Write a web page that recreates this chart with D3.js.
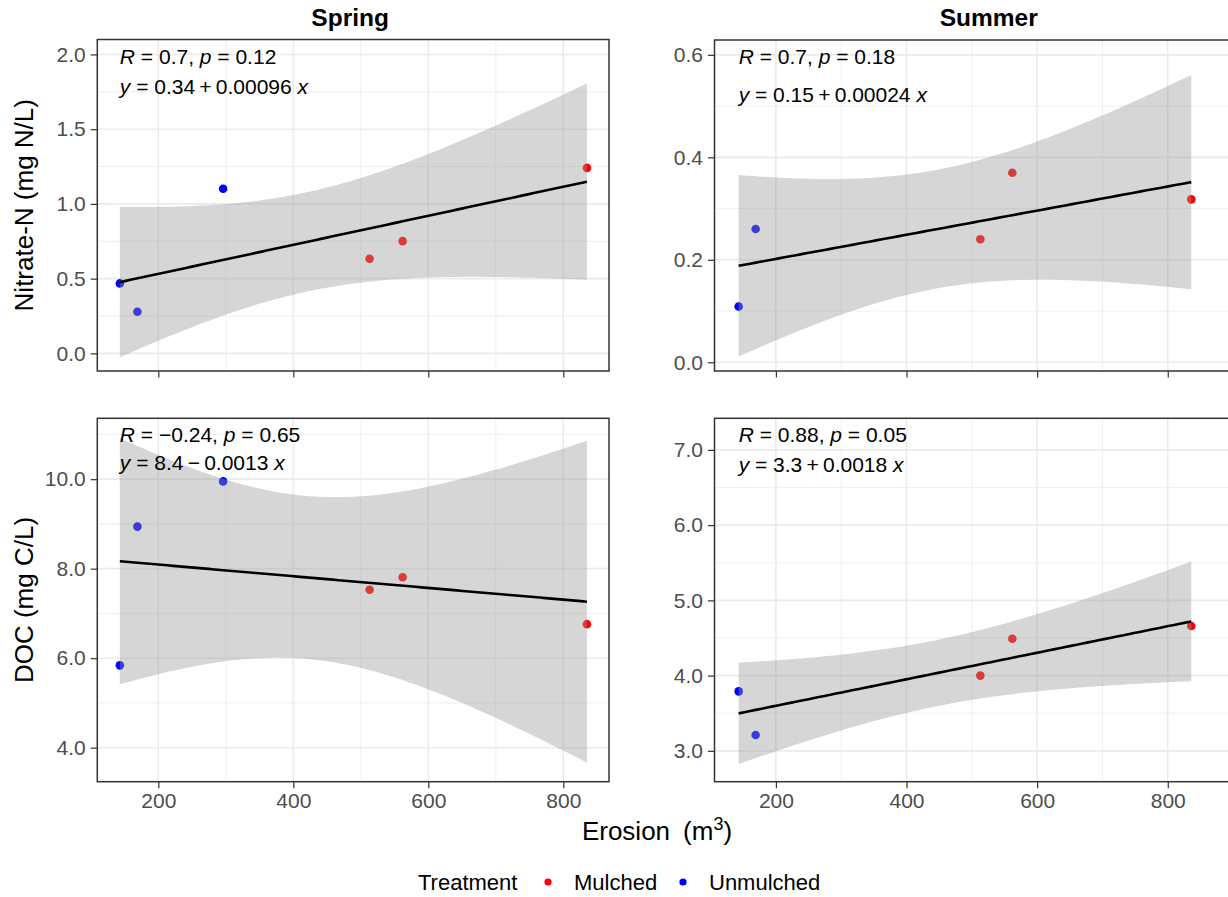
<!DOCTYPE html>
<html>
<head>
<meta charset="utf-8">
<script src="https://cdn.jsdelivr.net/npm/d3@7"></script>
<style>
body { margin: 0; background: #fff; }
text { font-family: "Liberation Sans", Arial, sans-serif; }
</style>
</head>
<body>
<svg id="chart" width="1228" height="897"></svg>
<script>
// values
var springErosion = [143, 169, 296, 513, 562, 835];
var springTreatment = ["Unmulched", "Unmulched", "Unmulched", "Mulched", "Mulched", "Mulched"];
var springNitrate = [0.468, 0.278, 1.101, 0.633, 0.751, 1.241];
var springDOC = [5.84, 8.94, 9.95, 7.53, 7.81, 6.76];

var summerErosion = [143, 169, 513, 562, 836];
var summerTreatment = ["Unmulched", "Unmulched", "Mulched", "Mulched", "Mulched"];
var summerNitrate = [0.109, 0.260, 0.240, 0.370, 0.318];
var summerDOC = [3.79, 3.21, 4.00, 4.49, 4.66];

var seasons = ["Spring", "Summer"];
var yTitles = ["Nitrate-N (mg N/L)", "DOC (mg C/L)"];
var treatments = ["Mulched", "Unmulched"];

// stat_cor and regression equation labels (TL, TR, BL, BR)
var rLabels = ["0.7", "0.7", "\u22120.24", "0.88"];
var pLabels = ["0.12", "0.18", "0.65", "0.05"];
var eqLabels = ["0.34\u2009+\u20090.00096", "0.15\u2009+\u20090.00024", "8.4\u2009\u2212\u20090.0013", "3.3\u2009+\u20090.0018"];

var xTicks = [200, 400, 600, 800];
var xMinor = [300, 500, 700, 900];
var yTicks = [[0, 0.5, 1, 1.5, 2], [0, 0.2, 0.4, 0.6], [4, 6, 8, 10], [3, 4, 5, 6, 7]];
var yMinor = [[0.25, 0.75, 1.25, 1.75], [0.1, 0.3, 0.5], [5, 7, 9, 11], [3.5, 4.5, 5.5, 6.5]];

var colour = d3.scaleOrdinal().domain(treatments).range(["#FF0000", "#0000FF"]);
var tQuant = {3: 3.182446, 4: 2.776445};

var panels = [
  {x: springErosion, y: springNitrate, g: springTreatment, xd: [109.6, 867.7], yd: [-0.118, 2.1],
   left: 97.3, right: 609, top: 39.5, bottom: 371, lab: [24, 54], col: 0, row: 0},
  {x: summerErosion, y: summerNitrate, g: summerTreatment, xd: [106, 955], yd: [-0.017, 0.629],
   left: 714.5, right: 1269, top: 40, bottom: 371, lab: [23.5, 62], col: 1, row: 0},
  {x: springErosion, y: springDOC, g: springTreatment, xd: [109.6, 867.7], yd: [3.24, 11.36],
   left: 97.3, right: 609, top: 418.3, bottom: 781.7, lab: [23.5, 52], col: 0, row: 1},
  {x: summerErosion, y: summerDOC, g: summerTreatment, xd: [106, 955], yd: [2.59, 7.42],
   left: 714.5, right: 1269, top: 418.3, bottom: 781.7, lab: [23.5, 53.5], col: 1, row: 1}
];

// lm fit with 95% confidence band, like geom_smooth(method = "lm")
function fit(xs, ys) {
  var n = xs.length, mx = d3.mean(xs), my = d3.mean(ys);
  var sxx = d3.sum(xs, function(x) { return (x - mx) * (x - mx); });
  var sxy = d3.sum(xs, function(x, i) { return (x - mx) * (ys[i] - my); });
  var b = sxy / sxx, a = my - b * mx;
  var sse = d3.sum(xs, function(x, i) { return Math.pow(ys[i] - a - b * x, 2); });
  var s = Math.sqrt(sse / (n - 2)), t = tQuant[n - 2];
  var x0 = d3.min(xs), x1 = d3.max(xs);
  return d3.range(80).map(function(i) {
    var x = x0 + i * (x1 - x0) / 79;
    var se = s * Math.sqrt(1 / n + (x - mx) * (x - mx) / sxx);
    var f = a + b * x;
    return {x: x, y: f, lo: f - t * se, hi: f + t * se};
  });
}

var svg = d3.select("#chart");
svg.append("rect").attr("width", 1228).attr("height", 897).attr("fill", "#fff");

panels.forEach(function(p, i) {
  var xs = d3.scaleLinear().domain(p.xd).range([p.left, p.right]);
  var ys = d3.scaleLinear().domain(p.yd).range([p.bottom, p.top]);
  var g = svg.append("g");

  g.append("clipPath").attr("id", "clip" + i)
    .append("rect").attr("x", p.left).attr("y", p.top)
    .attr("width", p.right - p.left).attr("height", p.bottom - p.top);
  var inner = g.append("g").attr("clip-path", "url(#clip" + i + ")");

  // grid
  inner.selectAll(".ymin").data(yMinor[i]).enter().append("line")
    .attr("x1", p.left).attr("x2", p.right)
    .attr("y1", function(d) { return ys(d); }).attr("y2", function(d) { return ys(d); })
    .attr("stroke", "#EBEBEB").attr("stroke-width", 0.8);
  inner.selectAll(".xmin").data(xMinor).enter().append("line")
    .attr("y1", p.top).attr("y2", p.bottom)
    .attr("x1", function(d) { return xs(d); }).attr("x2", function(d) { return xs(d); })
    .attr("stroke", "#EBEBEB").attr("stroke-width", 0.8);
  inner.selectAll(".ymaj").data(yTicks[i]).enter().append("line")
    .attr("x1", p.left).attr("x2", p.right)
    .attr("y1", function(d) { return ys(d); }).attr("y2", function(d) { return ys(d); })
    .attr("stroke", "#EBEBEB").attr("stroke-width", 1.6);
  inner.selectAll(".xmaj").data(xTicks).enter().append("line")
    .attr("y1", p.top).attr("y2", p.bottom)
    .attr("x1", function(d) { return xs(d); }).attr("x2", function(d) { return xs(d); })
    .attr("stroke", "#EBEBEB").attr("stroke-width", 1.6);

  // points (drawn under the ribbon, as in ggplot layer order)
  inner.selectAll("circle").data(p.x).enter().append("circle")
    .attr("cx", function(d) { return xs(d); })
    .attr("cy", function(d, j) { return ys(p.y[j]); })
    .attr("r", 4.3)
    .attr("fill", function(d, j) { return colour(p.g[j]); });

  var sm = fit(p.x, p.y);
  inner.append("path").datum(sm)
    .attr("d", d3.area().x(function(d) { return xs(d.x); })
      .y0(function(d) { return ys(d.lo); }).y1(function(d) { return ys(d.hi); }))
    .attr("fill", "#999999").attr("fill-opacity", 0.4);
  inner.append("path").datum(sm)
    .attr("d", d3.line().x(function(d) { return xs(d.x); }).y(function(d) { return ys(d.y); }))
    .attr("fill", "none").attr("stroke", "#000").attr("stroke-width", 2.6);

  // labels
  var lx = xs(d3.min(p.x));
  var t1 = inner.append("text").attr("x", lx).attr("y", p.top + p.lab[0])
    .attr("font-size", 21).attr("fill", "#000");
  t1.append("tspan").attr("font-style", "italic").text("R");
  t1.append("tspan").text(" = " + rLabels[i] + ", ");
  t1.append("tspan").attr("font-style", "italic").text("p");
  t1.append("tspan").text(" = " + pLabels[i]);
  var t2 = inner.append("text").attr("x", lx).attr("y", p.top + p.lab[1])
    .attr("font-size", 21).attr("fill", "#000");
  t2.append("tspan").attr("font-style", "italic").text("y");
  t2.append("tspan").text(" = " + eqLabels[i] + " ");
  t2.append("tspan").attr("font-style", "italic").text("x");

  // border
  g.append("rect").attr("x", p.left).attr("y", p.top)
    .attr("width", p.right - p.left).attr("height", p.bottom - p.top)
    .attr("fill", "none").attr("stroke", "#333").attr("stroke-width", 1.5);

  // axes
  var ya = g.append("g").attr("transform", "translate(" + p.left + ",0)")
    .call(d3.axisLeft(ys).tickValues(yTicks[i]).tickSize(6.6).tickPadding(5).tickFormat(d3.format(".1f")));
  var xa = g.append("g").attr("transform", "translate(0," + p.bottom + ")")
    .call(d3.axisBottom(xs).tickValues(xTicks).tickSize(6.6).tickPadding(5)
      .tickFormat(p.row === 1 ? d3.format("d") : function() { return ""; }));
  [ya, xa].forEach(function(a) {
    a.select(".domain").remove();
    a.selectAll(".tick line").attr("stroke", "#333").attr("stroke-width", 1.2);
    a.selectAll(".tick text").attr("fill", "#4D4D4D").attr("font-size", 21)
      .style("font-family", "'Liberation Sans', Arial, sans-serif");
  });

  if (p.row === 0) {
    svg.append("text").attr("x", (p.left + p.right) / 2 - 3).attr("y", 26)
      .attr("text-anchor", "middle").attr("font-size", 24.5).attr("font-weight", "bold")
      .attr("fill", "#000").text(seasons[p.col]);
  }
  if (p.col === 0) {
    svg.append("text")
      .attr("transform", "translate(33," + (p.top + p.bottom) / 2 + ") rotate(-90)")
      .attr("text-anchor", "middle").attr("font-size", 26).attr("fill", "#000")
      .text(yTitles[p.row]);
  }
});

// x axis title
var xt = svg.append("text").attr("x", 657).attr("y", 840).attr("text-anchor", "middle")
  .attr("font-size", 26).attr("fill", "#000");
xt.append("tspan").text("Erosion\u2002(m");
xt.append("tspan").attr("font-size", 18).attr("dy", -10).text("3");
xt.append("tspan").attr("dy", 10).text(")");

// legend
var leg = svg.append("g");
leg.append("text").attr("x", 418).attr("y", 890).attr("font-size", 22).attr("fill", "#000").text("Treatment");
var legX = [548, 683];
treatments.forEach(function(t, i) {
  leg.append("circle").attr("cx", legX[i]).attr("cy", 882).attr("r", 3.6).attr("fill", colour(t));
  leg.append("text").attr("x", legX[i] + 26).attr("y", 890).attr("font-size", 22).attr("fill", "#000").text(t);
});
</script>
</body>
</html>
